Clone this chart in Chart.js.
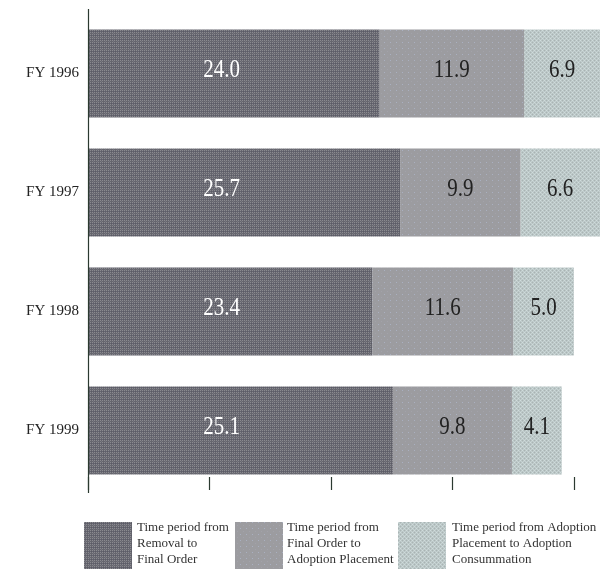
<!DOCTYPE html>
<html>
<head>
<meta charset="utf-8">
<script src="https://cdn.jsdelivr.net/npm/chart.js@4/dist/chart.umd.min.js"></script>
<style>
  html, body { margin: 0; padding: 0; background: #fff; }
  #wrap { width: 600px; height: 569px; position: relative; }
</style>
</head>
<body>
<div id="wrap"><canvas id="c" width="600" height="569"></canvas></div>
<script>
// Average time (months) to adoption, by fiscal year
const years = ['FY 1996', 'FY 1997', 'FY 1998', 'FY 1999'];
const removalToFinalOrder = [24.0, 25.7, 23.4, 25.1];
const finalOrderToPlacement = [11.9, 9.9, 11.6, 9.8];
const placementToConsummation = [6.9, 6.6, 5.0, 4.1];
const xTicks = [0, 10, 20, 30, 40];
const legendLines = [
  ['Time period from', 'Removal to', 'Final Order'],
  ['Time period from', 'Final Order to', 'Adoption Placement'],
  ['Time period from Adoption', 'Placement to Adoption', 'Consummation']
];

const SERIF = '"Liberation Serif", "DejaVu Serif", serif';

// Small tiled textures for the halftone-like fills
function makePattern(base, dots, size) {
  const c = document.createElement('canvas');
  c.width = size; c.height = size;
  const g = c.getContext('2d');
  g.fillStyle = base;
  g.fillRect(0, 0, size, size);
  dots.forEach(([x, y, col]) => { g.fillStyle = col; g.fillRect(x, y, 1, 1); });
  return g.createPattern(c, 'repeat');
}
const darkFill = makePattern('#66666e', [
  [0, 0, '#8a8a90'], [2, 0, '#8a8a90'], [1, 1, '#74747e'], [0, 2, '#8a8a90'], [2, 2, '#8a8a90'],
  [3, 3, '#5a5a66'], [1, 3, '#5e5e6c']
], 4);
const midFill = makePattern('#9c9ca0', [
  [0, 0, '#aab0c0'], [3, 3, '#a2a2aa']
], 6);
const lightFill = makePattern('#b9c5c5', [
  [0, 0, '#d0dcdc'], [2, 0, '#aab4b4'], [1, 1, '#c4d0d0'], [3, 1, '#c4d0d0'],
  [0, 2, '#aab4b4'], [2, 2, '#d0dcdc'], [1, 3, '#c4d0d0'], [3, 3, '#c4d0d0']
], 4);
const fills = [darkFill, midFill, lightFill];
const labelColors = ['#ffffff', '#222222', '#222222'];
// the first segment's labels sit in a common column at this axis value
const firstLabelAnchor = 11;

// Value labels in each segment
const segmentLabels = {
  id: 'segmentLabels',
  afterDatasetsDraw(chart) {
    const ctx = chart.ctx;
    const area = chart.chartArea;
    const xs = chart.scales.x;
    ctx.save();
    ctx.font = '21px ' + SERIF;
    ctx.textAlign = 'center';
    ctx.textBaseline = 'middle';
    chart.data.datasets.forEach((ds, di) => {
      const meta = chart.getDatasetMeta(di);
      meta.data.forEach((el, i) => {
        const left = Math.min(el.base, el.x);
        const right = Math.min(Math.max(el.base, el.x), area.right);
        const cx = di === 0 ? xs.getPixelForValue(firstLabelAnchor) : (left + right) / 2;
        ctx.save();
        ctx.translate(cx, el.y - 3);
        ctx.scale(1, 1.18);
        ctx.fillStyle = labelColors[di];
        ctx.fillText(ds.data[i].toFixed(1), 0, 0);
        ctx.restore();
      });
    });
    ctx.restore();
  }
};

// Vertical axis line, bottom tick marks and the legend boxes
const axisAndLegend = {
  id: 'axisAndLegend',
  afterDraw(chart) {
    const ctx = chart.ctx;
    const area = chart.chartArea;
    const xs = chart.scales.x;
    ctx.save();
    ctx.strokeStyle = '#2b3a30';
    ctx.lineWidth = 1.2;
    const x0 = Math.round(xs.getPixelForValue(0)) + 0.5;
    ctx.beginPath();
    ctx.moveTo(x0, area.top - 5);
    ctx.lineTo(x0, area.bottom + 3);
    ctx.stroke();
    xTicks.forEach(v => {
      const px = Math.round(xs.getPixelForValue(v)) + 0.5;
      ctx.beginPath();
      ctx.moveTo(px, area.bottom - 13);
      ctx.lineTo(px, area.bottom);
      ctx.stroke();
    });

    // legend
    const boxX = [84, 235, 398];
    const textX = [137, 287, 452];
    const boxTop = 522, boxW = 48, boxH = 47;
    ctx.font = '13px ' + SERIF;
    ctx.textAlign = 'left';
    ctx.textBaseline = 'middle';
    legendLines.forEach((lines, i) => {
      ctx.fillStyle = fills[i];
      ctx.fillRect(boxX[i], boxTop, boxW, boxH);
      ctx.fillStyle = '#333333';
      lines.forEach((t, j) => ctx.fillText(t, textX[i], 528 + j * 16));
    });
    ctx.restore();
  }
};

new Chart(document.getElementById('c'), {
  type: 'bar',
  data: {
    labels: years,
    datasets: [
      { label: legendLines[0].join(' '), data: removalToFinalOrder, backgroundColor: darkFill },
      { label: legendLines[1].join(' '), data: finalOrderToPlacement, backgroundColor: midFill },
      { label: legendLines[2].join(' '), data: placementToConsummation, backgroundColor: lightFill }
    ]
  },
  options: {
    indexAxis: 'y',
    responsive: false,
    animation: false,
    devicePixelRatio: 1,
    layout: { padding: { top: 14, bottom: 79, right: 0, left: 0 } },
    datasets: { bar: { categoryPercentage: 1, barPercentage: 0.74, borderWidth: 0 } },
    scales: {
      x: {
        stacked: true,
        display: false,
        min: 0,
        max: 42.15
      },
      y: {
        stacked: true,
        grid: { display: false, drawTicks: false },
        border: { display: false },
        ticks: { color: '#222', font: { family: SERIF, size: 15 }, padding: 9 },
        afterFit(scale) {
          scale.width = 88;
          scale.paddingTop = 0;
          scale.paddingBottom = 0;
        }
      }
    },
    plugins: {
      legend: { display: false },
      tooltip: { enabled: false }
    }
  },
  plugins: [segmentLabels, axisAndLegend]
});
</script>
</body>
</html>
